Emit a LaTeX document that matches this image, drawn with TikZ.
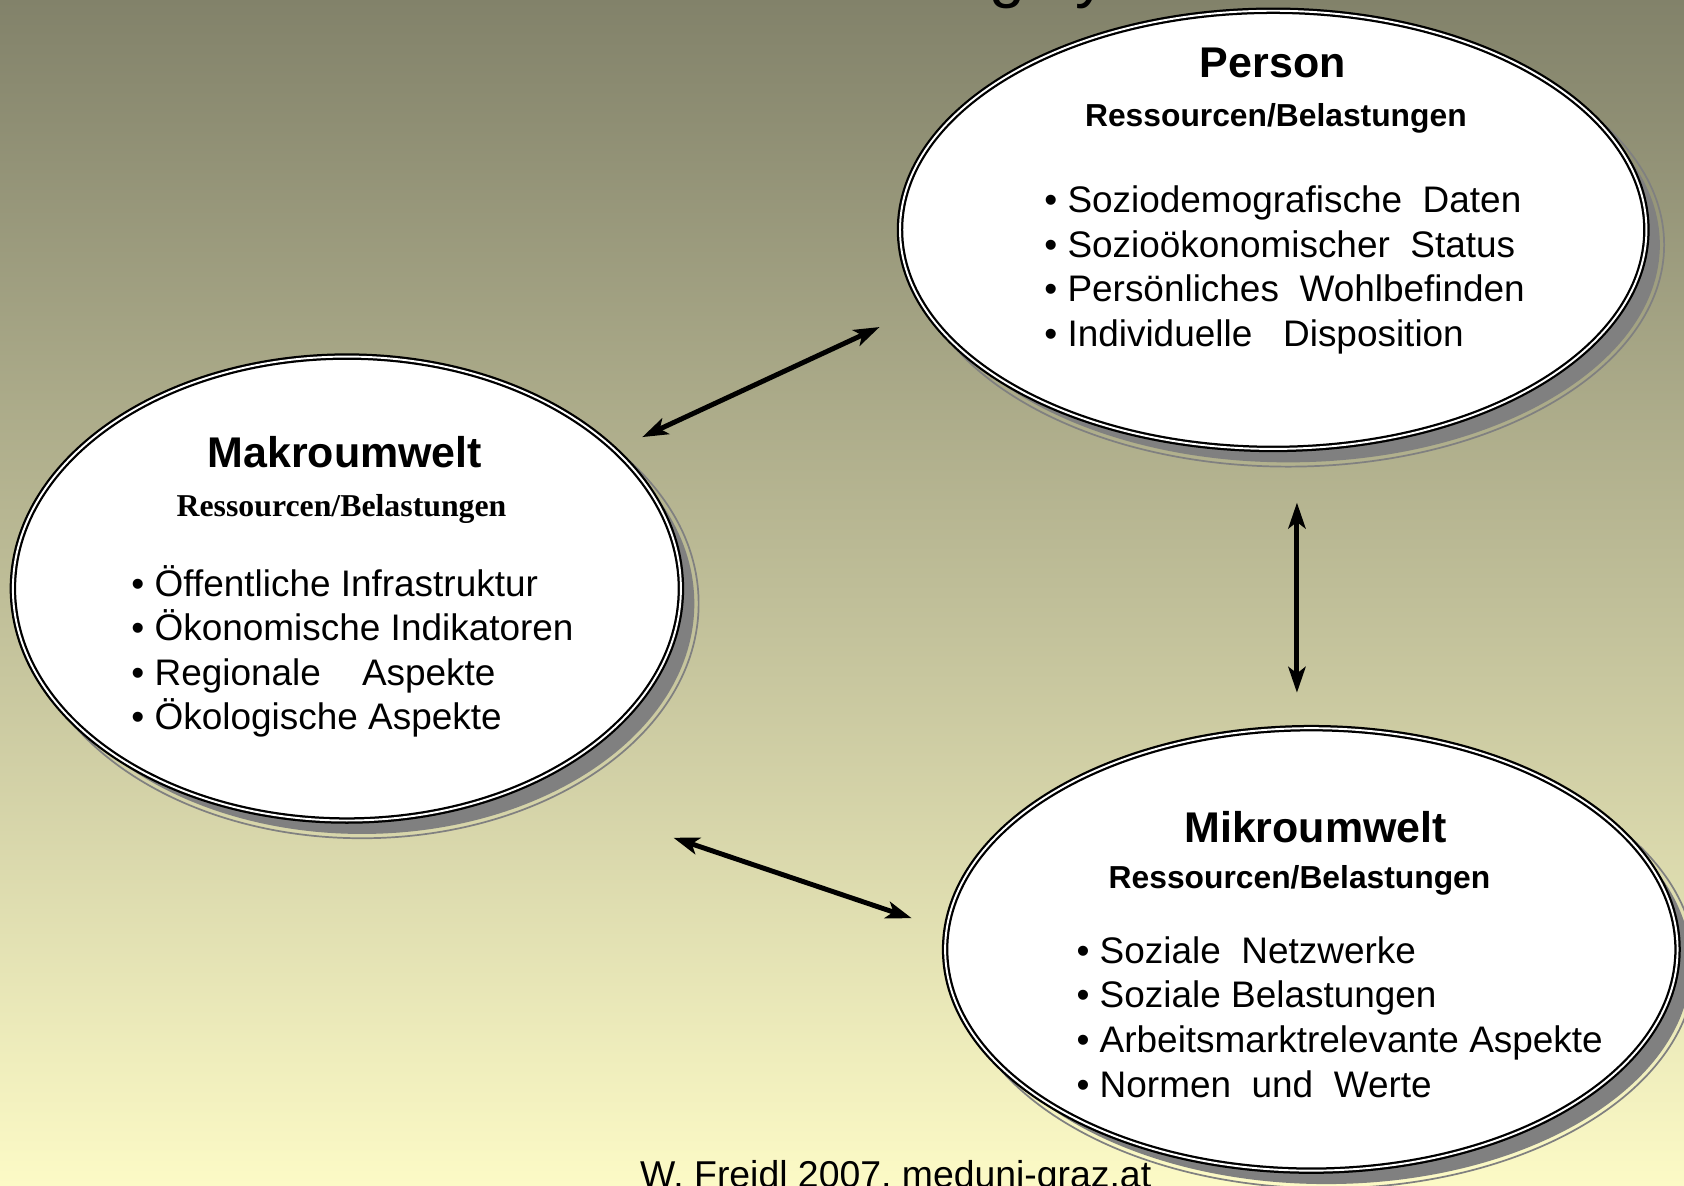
\documentclass[tikz,border=0pt]{standalone}
\usepackage{fontspec}
\setmainfont{Liberation Sans}
\newfontfamily\timesfont{Liberation Serif}
\usetikzlibrary{arrows.meta,shapes.geometric,shadings}
\definecolor{bgtop}{RGB}{130,130,106}
\definecolor{bgmid}{RGB}{200,199,156}
\definecolor{bgbot}{RGB}{252,250,198}
\definecolor{shadowgray}{RGB}{128,128,128}
\begin{document}
\begin{tikzpicture}[x=0.5pt,y=-0.5pt,
  bubble/.style={ellipse, draw=black, line width=1.05pt, double=white, double distance=0.9pt, fill=white, inner sep=0pt},
  shadowfill/.style={fill=shadowgray},
  shadowring/.style={draw=shadowgray, line width=0.8pt},
  titletext/.style={font=\fontsize{20}{24}\selectfont\bfseries, inner sep=0pt, anchor=base},
  subtext/.style={font=\fontsize{14.8}{17}\selectfont\bfseries, inner sep=0pt, anchor=base},
  itemtext/.style={font=\fontsize{17.2}{20}\selectfont, inner sep=0pt, anchor=base west},
  foottext/.style={font=\fontsize{17.4}{21}\selectfont, inner sep=0pt, anchor=base},
  fragtext/.style={font=\fontsize{30}{34}\selectfont, inner sep=0pt, anchor=base},
  biarrow/.style={line width=2.3pt, {Stealth[length=12pt,width=8pt,inset=3pt]}-{Stealth[length=12pt,width=8pt,inset=3pt]}}
]
\useasboundingbox (0,0) rectangle (1568,1103.4);
\shade[top color=bgtop, middle color=bgmid, bottom color=bgbot] (0,0) rectangle (1568,1103.4);

% title fragments cut off at the top
\node[fragtext] (fragg) at (938,-4.6) {g};
\node[fragtext] (fragy) at (1016,-4.6) {y};

% shadows
\fill[shadowfill] (1199.5,228) ellipse [x radius=173pt, y radius=101.25pt];
\draw[shadowring] (1199.5,228) ellipse [x radius=175pt, y radius=103.25pt];
\fill[shadowfill] (337,562) ellipse [x radius=154.75pt, y radius=107.25pt];
\draw[shadowring] (337,562) ellipse [x radius=156.75pt, y radius=109.25pt];
\fill[shadowfill] (1235,898) ellipse [x radius=169.75pt, y radius=102.25pt];
\draw[shadowring] (1235,898) ellipse [x radius=171.75pt, y radius=104.25pt];

% ellipses
\node[bubble, minimum width=347.5pt, minimum height=204pt] (person) at (1185.5,214) {};
\node[bubble, minimum width=311pt, minimum height=216pt] (makro) at (323,548) {};
\node[bubble, minimum width=341pt, minimum height=206pt] (mikro) at (1221,884) {};

% Person
\node[titletext] (ptitle) at (1185,72) {Person};
\node[subtext] (psub) at (1188,118) {Ressourcen/Belastungen};
\node[itemtext] (p1) at (972,198) {• Soziodemografische\ \ Daten};
\node[itemtext] (p2) at (972,239.5) {• Sozioökonomischer\ \ Status};
\node[itemtext] (p3) at (972,281) {• Persönliches\ \ Wohlbefinden};
\node[itemtext] (p4) at (972,322.5) {• Individuelle\ \ \ Disposition};

% Makroumwelt
\node[titletext] (mtitle) at (321,435) {Makroumwelt};
\node[subtext, font=\fontsize{14.8}{17}\selectfont\timesfont\bfseries] (msub) at (318,481) {Ressourcen/Belastungen};
\node[itemtext] (m1) at (122,555) {• Öffentliche Infrastruktur};
\node[itemtext] (m2) at (122,596.5) {• Ökonomische Indikatoren};
\node[itemtext] (m3) at (122,638) {• Regionale\ \ \ \ Aspekte};
\node[itemtext] (m4) at (122,679.5) {• Ökologische Aspekte};

% Mikroumwelt
\node[titletext] (ktitle) at (1225,784) {Mikroumwelt};
\node[subtext] (ksub) at (1210,827) {Ressourcen/Belastungen};
\node[itemtext] (k1) at (1002,897) {• Soziale\ \ Netzwerke};
\node[itemtext] (k2) at (1002,938.5) {• Soziale Belastungen};
\node[itemtext] (k3) at (1002,980) {• Arbeitsmarktrelevante Aspekte};
\node[itemtext] (k4) at (1002,1021.5) {• Normen\ \ und\ \ Werte};

% arrows
\coordinate (a1s) at (598,407);
\coordinate (a1e) at (819,304.5);
\coordinate (a2s) at (1207.6,468);
\coordinate (a2e) at (1207.6,645);
\coordinate (a3s) at (627,780);
\coordinate (a3e) at (849,855);
\draw[biarrow] (a1s) -- (a1e);
\draw[biarrow] (a2s) -- (a2e);
\draw[biarrow] (a3s) -- (a3e);

% footer
\node[foottext] (foot) at (834,1106) {W. Freidl 2007, meduni-graz.at};
\end{tikzpicture}
\end{document}
